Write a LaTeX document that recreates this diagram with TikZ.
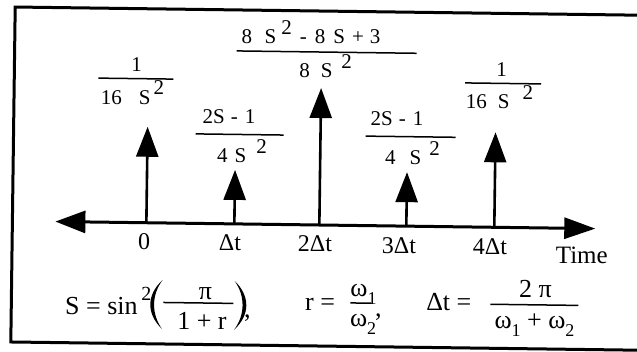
\documentclass[tikz,border=0pt]{standalone}
\usepackage{fontspec}
\setmainfont{Liberation Serif}
\usetikzlibrary{arrows.meta}
\newcommand\fsA{\fontsize{21}{24}\selectfont}
\newcommand\fsB{\fontsize{24}{28}\selectfont}
\newcommand\fsC{\fontsize{26}{30}\selectfont}
\newcommand\sqtwo{\raisebox{0.45em}{2}}
\newcommand\lowsub[1]{\raisebox{-0.28em}{\fontsize{18}{18}\selectfont #1}}
\begin{document}
\begin{tikzpicture}[x=1pt,y=-1pt,
  lbl/.style={anchor=base west,inner sep=0pt,outer sep=0pt},
  fr/.style={lbl,font=\fsA},
  tick/.style={anchor=base,inner sep=0pt,outer sep=0pt,font=\fsB},
  eq/.style={lbl,font=\fsC},
  frule/.style={line width=1.5pt},
  stem/.style={line width=2.6pt,-{Triangle[length=30pt,width=22pt]}},
  axis/.style={line width=3pt,{Triangle[length=30pt,width=22pt]}-{Triangle[length=31pt,width=21pt]}},
  frame/.style={line width=3pt}]
\fill[white] (0,0) rectangle (637,352);
\useasboundingbox (0,0) rectangle (637,352);
\begin{scope}[rotate around={-0.75:(318,176)}]
% frame (open at right, cropped)
\draw[frame] (650,11) -- (13,11) -- (13,346) -- (650,346);
% time axis
\coordinate (axL) at (56,225);
\coordinate (axR) at (596,225);
\draw[axis] (axL) -- (axR);
% impulses
\foreach \n/\x/\t in {0/147/129, 1/235/171, 2/320/88, 3/407/171, 4/495/130}{
  \coordinate (b\n) at (\x,225);
  \coordinate (t\n) at (\x,\t);
  \draw[stem] (b\n) -- (t\n);
}
% tick labels
\node[tick] (l0) at (145,252) {0};
\node[tick] (l1) at (231,252) {Δt};
\node[tick] (l2) at (316,252) {2Δt};
\node[tick] (l3) at (400,252) {3Δt};
\node[tick] (l4) at (491,252) {4Δt};
\node[lbl,font=\fontsize{25}{28}\selectfont] (time) at (557,260) {Time};
% weights
\node[fr] (f0n) at (130,74) {1};
\draw[frule] (97,81) -- (172,81);
\node[fr] (f0d) at (100,107) {16\hspace{17pt}S\hspace{3pt}\sqtwo};

\node[fr] (f1n) at (202,125) {2S\hspace{6pt}-\hspace{7pt}1};
\draw[frule] (195,135.5) -- (283,135.5);
\node[fr] (f1d) at (217,164) {4\hspace{7pt}S\hspace{10pt}\sqtwo};

\node[fr] (f2n) at (240,45) {8\hspace{12.5pt}S\hspace{5pt}\sqtwo\hspace{8pt}-\hspace{8pt}8\hspace{8pt}S\hspace{7pt}+\hspace{6pt}3};
\draw[frule] (235,52) -- (415,52);
\node[fr] (f2d) at (298,78) {8\hspace{11pt}S\hspace{9pt}\sqtwo};

\node[fr] (f3n) at (370,124.5) {2S\hspace{6pt}-\hspace{7pt}1};
\draw[frule] (365,135.5) -- (455,135.5);
\node[fr] (f3d) at (385,164) {4\hspace{14pt}S\hspace{8pt}\sqtwo};

\node[fr] (f4n) at (495,74) {1};
\draw[frule] (464,81) -- (540,81);
\node[fr] (f4d) at (465,107) {16\hspace{11pt}S\hspace{13pt}\sqtwo};
% definitions
\node[eq] (sdef) at (67,318) {S = sin};
\node[lbl,font=\fontsize{20}{20}\selectfont] (ssup) at (143,302.5) {2};
\fill (164,282) .. controls (148,297) and (148,316) .. (164,331)
      .. controls (153,316) and (153,297) .. (164,282);
\fill (236,282) .. controls (252,297) and (252,316) .. (236,331)
      .. controls (247,316) and (247,297) .. (236,282);
\draw[frule] (165,304.5) -- (235,304.5);
\node[eq,anchor=base] (pin) at (207,301) {π};
\node[eq,anchor=base] (pid) at (204,331.5) {1 + r};
\node[eq] (c1) at (246,318) {,};

\node[eq] (rdef) at (307,311) {r =};
\draw[frule] (352,302.5) -- (373,302.5);
\node[eq] (w1) at (352,296.5) {ω\lowsub{1}};
\node[eq] (w2) at (352,326.5) {ω\lowsub{2}};
\node[eq] (c2) at (377,316) {,};

\node[eq] (dtdef) at (428,309) {Δt =};
\draw[frule] (492,302) -- (580,302);
\node[eq,anchor=base] (twopi) at (537,295) {2 π};
\node[eq,anchor=base] (wsum) at (536.5,326) {ω\lowsub{1} + ω\lowsub{2}};
\end{scope}
\end{tikzpicture}
\end{document}
